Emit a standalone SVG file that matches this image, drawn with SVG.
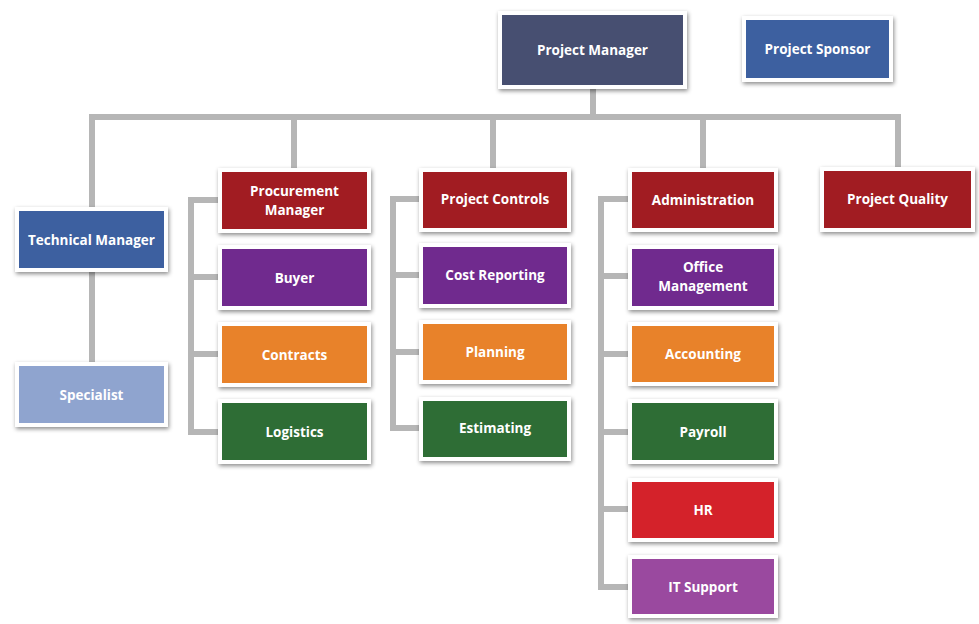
<svg xmlns="http://www.w3.org/2000/svg" width="979" height="624" viewBox="0 0 979 624">
<defs>
<filter id="sh" x="-10%" y="-20%" width="120%" height="150%">
<feDropShadow dx="1" dy="2" stdDeviation="2" flood-color="#000" flood-opacity="0.45"/>
</filter>
<style>
.n{stroke:#fff;stroke-width:4;filter:url(#sh)}
.t{font-family:"Open Sans","Liberation Sans",sans-serif;font-weight:700;font-size:13.5px;fill:#fff;text-anchor:middle;dominant-baseline:central}
.c{stroke:#b6b6b6;stroke-width:6;fill:none;stroke-linecap:square}
.pm{fill:#464f71}.blue{fill:#3e61a0}.lb{fill:#8fa4cf}.dr{fill:#a11c23}.pu{fill:#702a8e}.or{fill:#e8822b}.gr{fill:#2f6d36}.rd{fill:#d42029}.mg{fill:#9a4a9f}
</style>
</defs>
<rect width="979" height="624" fill="#fff"/>
<g id="connectors">
<path class="c" d="M593 89V117M92 117H898M92 117V207M294 117V168M493 117V168M703 117V168M898 117V167M92 272V362"/>
<path class="c" d="M218 200H191V432H218M191 277H218M191 354H218"/>
<path class="c" d="M419 199H393V428H419M393 275H419M393 352H419"/>
<path class="c" d="M628 199H601V587H628M601 276H628M601 354H628M601 432H628M601 509H628"/>
</g>
<g id="project-manager"><rect class="n pm" x="500" y="13" width="185" height="74"/><text class="t" x="592.5" y="50">Project Manager</text></g>
<g id="project-sponsor"><rect class="n blue" x="744" y="18" width="147" height="62"/><text class="t" x="817.5" y="49">Project Sponsor</text></g>
<g id="technical-manager"><rect class="n blue" x="17" y="209" width="149" height="61"/><text class="t" x="91.5" y="239.5">Technical Manager</text></g>
<g id="specialist"><rect class="n lb" x="17" y="364" width="149" height="61"/><text class="t" x="91.5" y="394.5">Specialist</text></g>
<g id="procurement-manager"><rect class="n dr" x="220" y="170" width="149" height="61"/><text class="t" x="294.5" y="191">Procurement</text><text class="t" x="294.5" y="210">Manager</text></g>
<g id="buyer"><rect class="n pu" x="220" y="247" width="149" height="61"/><text class="t" x="294.5" y="277.5">Buyer</text></g>
<g id="contracts"><rect class="n or" x="220" y="324" width="149" height="61"/><text class="t" x="294.5" y="354.5">Contracts</text></g>
<g id="logistics"><rect class="n gr" x="220" y="401" width="149" height="61"/><text class="t" x="294.5" y="432">Logistics</text></g>
<g id="project-controls"><rect class="n dr" x="421" y="170" width="148" height="60"/><text class="t" x="495" y="199">Project Controls</text></g>
<g id="cost-reporting"><rect class="n pu" x="421" y="245" width="148" height="61"/><text class="t" x="495" y="275">Cost Reporting</text></g>
<g id="planning"><rect class="n or" x="421" y="322" width="148" height="60"/><text class="t" x="495" y="352">Planning</text></g>
<g id="estimating"><rect class="n gr" x="421" y="399" width="148" height="60"/><text class="t" x="495" y="428">Estimating</text></g>
<g id="administration"><rect class="n dr" x="630" y="170" width="146" height="60"/><text class="t" x="703" y="199.5">Administration</text></g>
<g id="office-management"><rect class="n pu" x="630" y="247" width="146" height="61"/><text class="t" x="703" y="267">Office</text><text class="t" x="703" y="286">Management</text></g>
<g id="accounting"><rect class="n or" x="630" y="324" width="146" height="60"/><text class="t" x="703" y="354">Accounting</text></g>
<g id="payroll"><rect class="n gr" x="630" y="401" width="146" height="61"/><text class="t" x="703" y="432">Payroll</text></g>
<g id="hr"><rect class="n rd" x="630" y="480" width="146" height="60"/><text class="t" x="703" y="509.5">HR</text></g>
<g id="it-support"><rect class="n mg" x="630" y="557" width="146" height="59"/><text class="t" x="703" y="587">IT Support</text></g>
<g id="project-quality"><rect class="n dr" x="822" y="169" width="151" height="61"/><text class="t" x="897.5" y="198.5">Project Quality</text></g>
</svg>
